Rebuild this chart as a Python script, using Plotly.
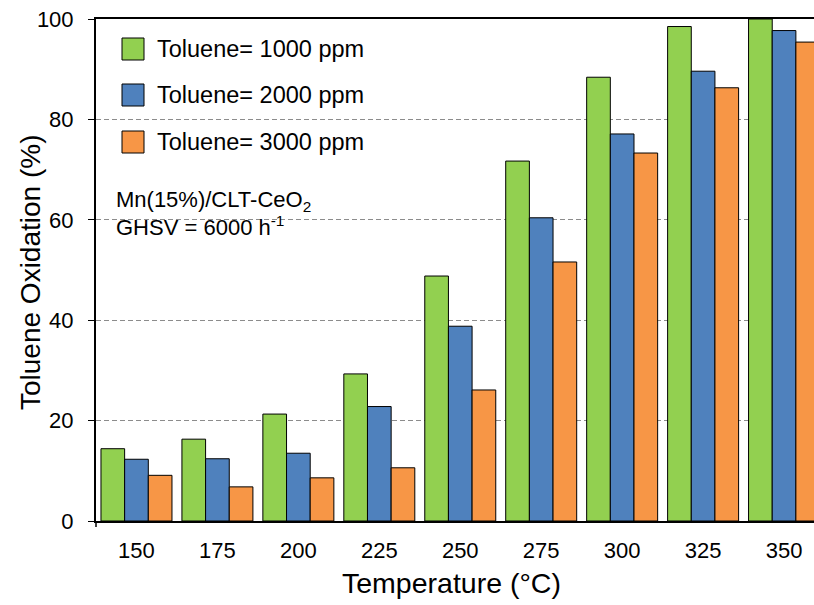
import plotly.graph_objects as go

temperatures = ["150", "175", "200", "225", "250", "275", "300", "325", "350"]
toluene_1000 = [14.4, 16.3, 21.3, 29.3, 48.8, 71.7, 88.4, 98.5, 100.0]
toluene_2000 = [12.3, 12.4, 13.5, 22.8, 38.8, 60.4, 77.1, 89.6, 97.7]
toluene_3000 = [9.1, 6.8, 8.6, 10.6, 26.1, 51.6, 73.3, 86.3, 95.4]
series_names = ["Toluene= 1000 ppm", "Toluene= 2000 ppm", "Toluene= 3000 ppm"]
series_colors = ["#92D050", "#4F81BD", "#F79646"]
y_ticks = [0, 20, 40, 60, 80, 100]

FONT = "Arial, Liberation Sans, sans-serif"
W, H = 814, 605
ML, MR, MT, MB = 96, 0, 19, 84
PW, PH = W - ML - MR, H - MT - MB


def px(x):
    return (x - ML) / PW


def py(y):
    return (H - MB - y) / PH


fig = go.Figure()
for name, vals, col in zip(series_names, [toluene_1000, toluene_2000, toluene_3000], series_colors):
    fig.add_trace(go.Bar(
        x=list(range(len(temperatures))), y=vals, name=name,
        marker=dict(color=col, line=dict(color="black", width=1)),
        showlegend=False,
    ))

shapes = []
annotations = []
# white legend background covering gridlines
shapes.append(dict(type="rect", xref="paper", yref="paper",
                   x0=px(100), x1=px(383), y0=py(166), y1=py(24),
                   fillcolor="white", line=dict(width=0), layer="between"))
# white background behind the catalyst note
shapes.append(dict(type="rect", xref="paper", yref="paper",
                   x0=px(113), x1=px(326), y0=py(238), y1=py(186),
                   fillcolor="white", line=dict(width=0), layer="between"))
legend_y = [49, 95, 142]
for name, col, ly in zip(series_names, series_colors, legend_y):
    shapes.append(dict(type="rect", xref="paper", yref="paper",
                       x0=px(122), x1=px(144), y0=py(ly + 11), y1=py(ly - 11),
                       fillcolor=col, line=dict(color="black", width=1), layer="above"))
    annotations.append(dict(xref="paper", yref="paper", x=px(155), y=py(ly),
                            xanchor="left", yanchor="middle", showarrow=False,
                            text=name, font=dict(family=FONT, size=23.5, color="black")))

annotations.append(dict(xref="paper", yref="paper", x=px(114), y=py(201),
                        xanchor="left", yanchor="middle", showarrow=False, align="left",
                        text="Mn(15%)/CLT-CeO<sub>2</sub>",
                        font=dict(family=FONT, size=22, color="black")))
annotations.append(dict(xref="paper", yref="paper", x=px(114), y=py(226),
                        xanchor="left", yanchor="middle", showarrow=False, align="left",
                        text="GHSV = 6000 h<sup>-1</sup>",
                        font=dict(family=FONT, size=22, color="black")))

# axis titles
annotations.append(dict(xref="paper", yref="paper", x=px(451), y=py(583),
                        xanchor="center", yanchor="middle", showarrow=False,
                        text="Temperature (°C)", font=dict(family=FONT, size=28.5, color="black")))
annotations.append(dict(xref="paper", yref="paper", x=px(30), y=py(273),
                        xanchor="center", yanchor="middle", showarrow=False, textangle=-90,
                        text="Toluene Oxidation (%)", font=dict(family=FONT, size=28, color="black")))

# small tick at left end of x axis
shapes.append(dict(type="line", xref="paper", yref="paper", x0=0, x1=0,
                   y0=0, y1=-6 / PH, line=dict(color="black", width=1.5)))

fig.update_layout(
    width=W, height=H,
    margin=dict(l=ML, r=MR, t=MT, b=MB, pad=0),
    paper_bgcolor="white", plot_bgcolor="white",
    barmode="group", bargap=0.123, bargroupgap=0,
    font=dict(family=FONT, size=22, color="black"),
    shapes=shapes, annotations=annotations,
    showlegend=False,
)
fig.update_xaxes(
    range=[-0.5, 8.37], tickmode="array", tickvals=list(range(len(temperatures))),
    ticktext=temperatures, ticks="", showgrid=False, zeroline=False,
    showline=True, linecolor="black", linewidth=2, mirror=True,
    ticklabelstandoff=9, tickfont=dict(family=FONT, size=22, color="black"),
)
fig.update_yaxes(
    range=[0, 100], tickmode="array", tickvals=y_ticks,
    ticks="outside", ticklen=6, tickcolor="black", tickwidth=1,
    showgrid=True, gridcolor="#8c8c8c", gridwidth=1, griddash="5px,3px",
    zeroline=False, showline=True, linecolor="black", linewidth=2,
    ticklabelstandoff=10, tickfont=dict(family=FONT, size=22, color="black"),
)

fig.write_html("out.html")
